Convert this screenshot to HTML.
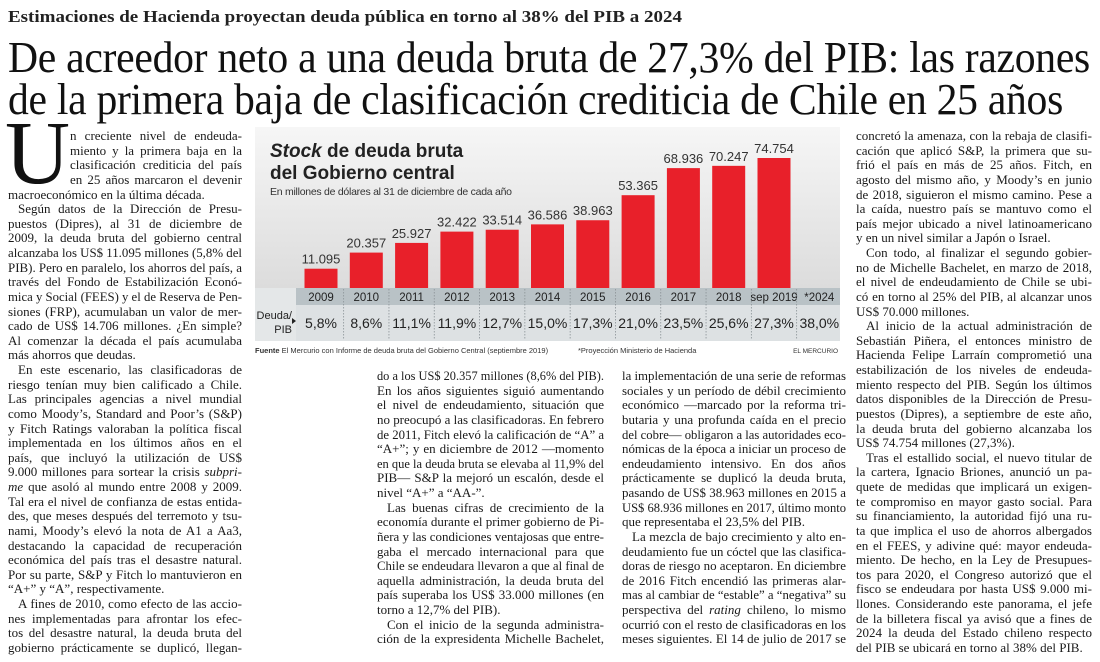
<!DOCTYPE html>
<html><head><meta charset="utf-8">
<style>
html,body{margin:0;padding:0;background:#fff;}
body{width:1100px;height:662px;position:relative;overflow:hidden;font-family:"Liberation Serif",serif;color:#1a1a1a;}
.abs{position:absolute;}
.kicker{left:8px;top:7px;font-weight:bold;font-size:17px;white-space:nowrap;color:#222;}
.head{left:8px;font-size:44px;white-space:nowrap;line-height:44px;color:#111;letter-spacing:-0.3px;}
.col{position:absolute;font-size:13px;}
.ln{height:14.63px;line-height:14.63px;white-space:nowrap;overflow:visible;}
.ln span{display:inline-block;transform-origin:0 50%;}
.ind{padding-left:10px;}
.dc{padding-left:62px;}
.dropcap{position:absolute;left:5px;top:109px;font-size:90px;line-height:90px;color:#111;}
</style></head><body>
<div class="abs kicker fit" data-w="674"><span>Estimaciones de Hacienda proyectan deuda pública en torno al 38% del PIB a 2024</span></div>
<div class="abs head fit" style="top:36px" data-w="1082"><span>De acreedor neto a una deuda bruta de 27,3% del PIB: las razones</span></div>
<div class="abs head fit" style="top:78px" data-w="1055"><span>de la primera baja de clasificación crediticia de Chile en 25 años</span></div>

<div class="dropcap">U</div>

<div class="col" style="left:8px;top:129px;width:234px">
<div class="ln dc"><span>n creciente nivel de endeuda-</span></div>
<div class="ln dc"><span>miento y la primera baja en la</span></div>
<div class="ln dc"><span>clasificación crediticia del país</span></div>
<div class="ln dc"><span>en 25 años marcaron el devenir</span></div>
<div class="ln last"><span>macroeconómico en la última década.</span></div>
<div class="ln ind"><span>Según datos de la Dirección de Presu-</span></div>
<div class="ln"><span>puestos (Dipres), al 31 de diciembre de</span></div>
<div class="ln"><span>2009, la deuda bruta del gobierno central</span></div>
<div class="ln"><span>alcanzaba los US$ 11.095 millones (5,8% del</span></div>
<div class="ln"><span>PIB). Pero en paralelo, los ahorros del país, a</span></div>
<div class="ln"><span>través del Fondo de Estabilización Econó-</span></div>
<div class="ln"><span>mica y Social (FEES) y el de Reserva de Pen-</span></div>
<div class="ln"><span>siones (FRP), acumulaban un valor de mer-</span></div>
<div class="ln"><span>cado de US$ 14.706 millones. ¿En simple?</span></div>
<div class="ln"><span>Al comenzar la década el país acumulaba</span></div>
<div class="ln last"><span>más ahorros que deudas.</span></div>
<div class="ln ind"><span>En este escenario, las clasificadoras de</span></div>
<div class="ln"><span>riesgo tenían muy bien calificado a Chile.</span></div>
<div class="ln"><span>Las principales agencias a nivel mundial</span></div>
<div class="ln"><span>como Moody’s, Standard and Poor’s (S&amp;P)</span></div>
<div class="ln"><span>y Fitch Ratings valoraban la política fiscal</span></div>
<div class="ln"><span>implementada en los últimos años en el</span></div>
<div class="ln"><span>país, que incluyó la utilización de US$</span></div>
<div class="ln"><span>9.000 millones para sortear la crisis <i>subpri-</i></span></div>
<div class="ln"><span><i>me</i> que asoló al mundo entre 2008 y 2009.</span></div>
<div class="ln"><span>Tal era el nivel de confianza de estas entida-</span></div>
<div class="ln"><span>des, que meses después del terremoto y tsu-</span></div>
<div class="ln"><span>nami, Moody’s elevó la nota de A1 a Aa3,</span></div>
<div class="ln"><span>destacando la capacidad de recuperación</span></div>
<div class="ln"><span>económica del país tras el desastre natural.</span></div>
<div class="ln"><span>Por su parte, S&amp;P y Fitch lo mantuvieron en</span></div>
<div class="ln last"><span>“A+” y “A”, respectivamente.</span></div>
<div class="ln ind"><span>A fines de 2010, como efecto de las accio-</span></div>
<div class="ln"><span>nes implementadas para afrontar los efec-</span></div>
<div class="ln"><span>tos del desastre natural, la deuda bruta del</span></div>
<div class="ln"><span>gobierno prácticamente se duplicó, llegan-</span></div>
</div>

<div class="col" style="left:377px;top:369px;width:227px">
<div class="ln"><span>do a los US$ 20.357 millones (8,6% del PIB).</span></div>
<div class="ln"><span>En los años siguientes siguió aumentando</span></div>
<div class="ln"><span>el nivel de endeudamiento, situación que</span></div>
<div class="ln"><span>no preocupó a las clasificadoras. En febrero</span></div>
<div class="ln"><span>de 2011, Fitch elevó la calificación de “A” a</span></div>
<div class="ln"><span>“A+”; y en diciembre de 2012 —momento</span></div>
<div class="ln"><span>en que la deuda bruta se elevaba al 11,9% del</span></div>
<div class="ln"><span>PIB— S&amp;P la mejoró un escalón, desde el</span></div>
<div class="ln last"><span>nivel “A+” a “AA-”.</span></div>
<div class="ln ind"><span>Las buenas cifras de crecimiento de la</span></div>
<div class="ln"><span>economía durante el primer gobierno de Pi-</span></div>
<div class="ln"><span>ñera y las condiciones ventajosas que entre-</span></div>
<div class="ln"><span>gaba el mercado internacional para que</span></div>
<div class="ln"><span>Chile se endeudara llevaron a que al final de</span></div>
<div class="ln"><span>aquella administración, la deuda bruta del</span></div>
<div class="ln"><span>país superaba los US$ 33.000 millones (en</span></div>
<div class="ln last"><span>torno a 12,7% del PIB).</span></div>
<div class="ln ind"><span>Con el inicio de la segunda administra-</span></div>
<div class="ln"><span>ción de la expresidenta Michelle Bachelet,</span></div>
</div>

<div class="col" style="left:622px;top:369px;width:224px">
<div class="ln"><span>la implementación de una serie de reformas</span></div>
<div class="ln"><span>sociales y un período de débil crecimiento</span></div>
<div class="ln"><span>económico —marcado por la reforma tri-</span></div>
<div class="ln"><span>butaria y una profunda caída en el precio</span></div>
<div class="ln"><span>del cobre— obligaron a las autoridades eco-</span></div>
<div class="ln"><span>nómicas de la época a iniciar un proceso de</span></div>
<div class="ln"><span>endeudamiento intensivo. En dos años</span></div>
<div class="ln"><span>prácticamente se duplicó la deuda bruta,</span></div>
<div class="ln"><span>pasando de US$ 38.963 millones en 2015 a</span></div>
<div class="ln"><span>US$ 68.936 millones en 2017, último monto</span></div>
<div class="ln last"><span>que representaba el 23,5% del PIB.</span></div>
<div class="ln ind"><span>La mezcla de bajo crecimiento y alto en-</span></div>
<div class="ln"><span>deudamiento fue un cóctel que las clasifica-</span></div>
<div class="ln"><span>doras de riesgo no aceptaron. En diciembre</span></div>
<div class="ln"><span>de 2016 Fitch encendió las primeras alar-</span></div>
<div class="ln"><span>mas al cambiar de “estable” a “negativa” su</span></div>
<div class="ln"><span>perspectiva del <i>rating</i> chileno, lo mismo</span></div>
<div class="ln"><span>ocurrió con el resto de clasificadoras en los</span></div>
<div class="ln"><span>meses siguientes. El 14 de julio de 2017 se</span></div>
</div>

<div class="col" style="left:856px;top:129px;width:236px">
<div class="ln"><span>concretó la amenaza, con la rebaja de clasifi-</span></div>
<div class="ln"><span>cación que aplicó S&amp;P, la primera que su-</span></div>
<div class="ln"><span>frió el país en más de 25 años. Fitch, en</span></div>
<div class="ln"><span>agosto del mismo año, y Moody’s en junio</span></div>
<div class="ln"><span>de 2018, siguieron el mismo camino. Pese a</span></div>
<div class="ln"><span>la caída, nuestro país se mantuvo como el</span></div>
<div class="ln"><span>país mejor ubicado a nivel latinoamericano</span></div>
<div class="ln last"><span>y en un nivel similar a Japón o Israel.</span></div>
<div class="ln ind"><span>Con todo, al finalizar el segundo gobier-</span></div>
<div class="ln"><span>no de Michelle Bachelet, en marzo de 2018,</span></div>
<div class="ln"><span>el nivel de endeudamiento de Chile se ubi-</span></div>
<div class="ln"><span>có en torno al 25% del PIB, al alcanzar unos</span></div>
<div class="ln last"><span>US$ 70.000 millones.</span></div>
<div class="ln ind"><span>Al inicio de la actual administración de</span></div>
<div class="ln"><span>Sebastián Piñera, el entonces ministro de</span></div>
<div class="ln"><span>Hacienda Felipe Larraín comprometió una</span></div>
<div class="ln"><span>estabilización de los niveles de endeuda-</span></div>
<div class="ln"><span>miento respecto del PIB. Según los últimos</span></div>
<div class="ln"><span>datos disponibles de la Dirección de Presu-</span></div>
<div class="ln"><span>puestos (Dipres), a septiembre de este año,</span></div>
<div class="ln"><span>la deuda bruta del gobierno alcanzaba los</span></div>
<div class="ln last"><span>US$ 74.754 millones (27,3%).</span></div>
<div class="ln ind"><span>Tras el estallido social, el nuevo titular de</span></div>
<div class="ln"><span>la cartera, Ignacio Briones, anunció un pa-</span></div>
<div class="ln"><span>quete de medidas que implicará un exigen-</span></div>
<div class="ln"><span>te compromiso en mayor gasto social. Para</span></div>
<div class="ln"><span>su financiamiento, la autoridad fijó una ru-</span></div>
<div class="ln"><span>ta que implica el uso de ahorros albergados</span></div>
<div class="ln"><span>en el FEES, y adivine qué: mayor endeuda-</span></div>
<div class="ln"><span>miento. De hecho, en la Ley de Presupues-</span></div>
<div class="ln"><span>tos para 2020, el Congreso autorizó que el</span></div>
<div class="ln"><span>fisco se endeudara por hasta US$ 9.000 mi-</span></div>
<div class="ln"><span>llones. Considerando este panorama, el jefe</span></div>
<div class="ln"><span>de la billetera fiscal ya avisó que a fines de</span></div>
<div class="ln"><span>2024 la deuda del Estado chileno respecto</span></div>
<div class="ln last"><span>del PIB se ubicará en torno al 38% del PIB.</span></div>
</div>

<svg class="abs" style="left:0;top:0" width="1100" height="662" id="chart" font-family="Liberation Sans, sans-serif">
<defs><linearGradient id="bg" x1="0" y1="0" x2="0" y2="1"><stop offset="0" stop-color="#f6f6f6"/><stop offset="1" stop-color="#dcdcdc"/></linearGradient></defs>
<rect x="255" y="127" width="585" height="161" fill="url(#bg)"/>
<rect x="255" y="288" width="585" height="53" fill="#e4e7e8"/>
<rect x="296" y="288" width="544" height="17" fill="#b9c2c6"/>
<rect x="296" y="305" width="544" height="36" fill="#dde1e3"/>
<text x="270" y="157" font-size="19" font-weight="bold" fill="#222"><tspan font-style="italic">Stock</tspan> de deuda bruta</text>
<text x="270" y="179" font-size="19" font-weight="bold" fill="#222">del Gobierno central</text>
<text x="270" y="195" font-size="10.5" fill="#333" textLength="242">En millones de dólares al 31 de diciembre de cada año</text>
<text x="292" y="319" font-size="11" fill="#222" text-anchor="end">Deuda/</text>
<text x="292" y="333" font-size="11" fill="#222" text-anchor="end">PIB</text>
<path d="M292 318 l4 3 l-4 3z" fill="#222"/>
<g id="marks"></g>
<text x="255" y="353" font-size="7.5" fill="#333"><tspan font-weight="bold">Fuente</tspan> El Mercurio con Informe de deuda bruta del Gobierno Central (septiembre 2019)</text>
<text x="578" y="353" font-size="7.5" fill="#333">*Proyección Ministerio de Hacienda</text>
<text x="838" y="353" font-size="6.5" fill="#333" text-anchor="end">EL MERCURIO</text>
</svg>

<script>
const years = ["2009","2010","2011","2012","2013","2014","2015","2016","2017","2018","sep 2019","*2024"];
const debt = [11095,20357,25927,32422,33514,36586,38963,53365,68936,70247,74754,null];
const debtLabels = ["11.095","20.357","25.927","32.422","33.514","36.586","38.963","53.365","68.936","70.247","74.754",""];
const ratio = [5.8,8.6,11.1,11.9,12.7,15.0,17.3,21.0,23.5,25.6,27.3,38.0];

const NS="http://www.w3.org/2000/svg";
const g=document.getElementById('marks');
const baseY=288, pxPer=130/74754, x0=321, pitch=45.3, bw=33;
function xC(i){return x0+i*pitch;}
function yV(v){return baseY-v*pxPer;}
function mk(tag,attrs){const e=document.createElementNS(NS,tag);for(const k in attrs)e.setAttribute(k,attrs[k]);g.appendChild(e);return e;}
years.forEach((yr,i)=>{
  const cx=xC(i);
  if(i>0){const s=mk('line',{x1:cx-pitch/2,x2:cx-pitch/2,y1:289,y2:340,stroke:'#8a9296','stroke-width':0.8,'stroke-dasharray':'1.5,1.5'});
    
    }
  if(debt[i]!=null){
    const r=mk('rect',{x:cx-bw/2,y:yV(debt[i]),width:bw,height:baseY-yV(debt[i]),fill:'#e8202a'});
    
    
    const t=mk('text',{x:cx,y:yV(debt[i])-5,'font-size':13,'text-anchor':'middle',fill:'#333'});
    t.textContent=debtLabels[i];
    
    
  }
  const yt=mk('text',{x:cx,y:301,'font-size':11.5,'text-anchor':'middle',fill:'#222'});
  yt.textContent=yr;
  
  
  const pt=mk('text',{x:cx,y:328,'font-size':14,'text-anchor':'middle',fill:'#222'});
  pt.textContent=ratio[i].toFixed(1).replace('.',',')+'%';
  
  
});

document.querySelectorAll('.fit').forEach(d=>{
  const s=d.querySelector('span');s.style.display='inline-block';s.style.transformOrigin='0 50%';
  const W=+d.dataset.w, w=s.getBoundingClientRect().width;
  s.style.transform='scaleX('+(W/w)+')';
});
document.querySelectorAll('.col').forEach(c=>{
  const CW=parseFloat(c.style.width);
  c.querySelectorAll('.ln').forEach(l=>{
    const s=l.querySelector('span');
    const pad=parseFloat(getComputedStyle(l).paddingLeft)||0;
    const W=CW-pad;
    const w=s.getBoundingClientRect().width;
    if(w>W){s.style.transform='scaleX('+(W/w)+')';}
    else if(!l.classList.contains('last')){
      const n=(s.textContent.match(/ /g)||[]).length;
      if(n>0)s.style.wordSpacing=((W-w)/n)+'px';
    }
  });
});
</script>
</body></html>
